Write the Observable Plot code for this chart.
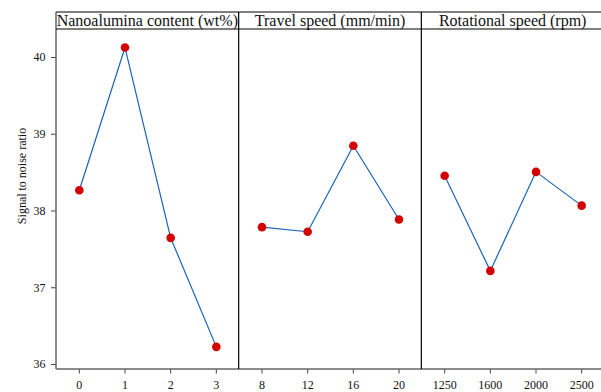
<!DOCTYPE html>
<html>
<head>
<meta charset="utf-8">
<script src="https://cdn.jsdelivr.net/npm/d3@7"></script>
<script src="https://cdn.jsdelivr.net/npm/@observablehq/plot@0.6"></script>
<style>
body { margin: 0; background: #fff; }
#chart svg, #chart svg text, #chart svg g { font-family: "Liberation Serif", "DejaVu Serif", serif !important; }
</style>
</head>
<body>
<div id="chart"></div>
<script>
const groups = ["Nanoalumina content (wt%)", "Travel speed (mm/min)", "Rotational speed (rpm)"];
const nanoLevels = ["0", "1", "2", "3"];
const travelLevels = ["8", "12", "16", "20"];
const rotLevels = ["1250", "1600", "2000", "2500"];
const nanoSN = [38.27, 40.13, 37.65, 36.23];
const travelSN = [37.79, 37.73, 38.85, 37.89];
const rotSN = [38.46, 37.22, 38.51, 38.07];
const yTicks = [36, 37, 38, 39, 40];
const yLabel = "Signal to noise ratio";

const levels = [nanoLevels, travelLevels, rotLevels];
const values = [nanoSN, travelSN, rotSN];
const labels = levels.flat();
const data = [];
levels.forEach((lv, g) => lv.forEach((l, j) => data.push({group: groups[g], i: g * 4 + j, level: l, sn: values[g][j]})));
const n = labels.length;
const serif = "Liberation Serif, DejaVu Serif, serif";

// custom mark: header boxes, panel dividers, frame, y label
function decorations(index, scales, channels, dim) {
  const {x, y} = scales;
  const top = dim.marginTop, bottom = dim.height - dim.marginBottom;
  const headTop = top - 17;
  const g = d3.create("svg:g").attr("font-family", serif);
  const left = x(-0.5), right = x(n - 0.5);
  g.append("line").attr("x1", left).attr("x2", left).attr("y1", headTop).attr("y2", bottom).attr("stroke", "#666").attr("stroke-width", 1.5);
  g.append("line").attr("x1", left).attr("x2", right).attr("y1", bottom).attr("y2", bottom).attr("stroke", "#666").attr("stroke-width", 1.5);
  g.append("line").attr("x1", left).attr("x2", right).attr("y1", headTop).attr("y2", headTop).attr("stroke", "#000").attr("stroke-width", 1.2);
  g.append("line").attr("x1", left).attr("x2", right).attr("y1", top).attr("y2", top).attr("stroke", "#000").attr("stroke-width", 1.2);
  for (let k = 1; k < groups.length; ++k) {
    const xd = x(k * 4 - 0.5);
    g.append("line").attr("x1", xd).attr("x2", xd).attr("y1", headTop).attr("y2", bottom).attr("stroke", "#000").attr("stroke-width", 1.2);
  }
  groups.forEach((name, k) => {
    g.append("text").attr("x", x(k * 4 + 1.5)).attr("y", headTop + 8.5).attr("dy", "0.36em")
      .attr("text-anchor", "middle").attr("font-size", 16).attr("fill", "#111").text(name);
  });
  g.append("text").attr("transform", `translate(22,${y(38.45)}) rotate(-90)`)
    .attr("text-anchor", "middle").attr("dy", "0.35em").attr("font-size", 12).attr("fill", "#111").text(yLabel);
  return g.node();
}

const chart = Plot.plot({
  width: 601,
  height: 392,
  marginLeft: 56,
  marginRight: -3,
  marginTop: 29,
  marginBottom: 23,
  style: {fontFamily: serif, fontSize: "12px", color: "#111", background: "#fff"},
  x: {domain: [-0.5, n - 0.5], axis: null},
  y: {domain: [35.935, 40.365], axis: null},
  marks: [
    Plot.axisX({ticks: d3.range(n), tickFormat: i => labels[i], tickSize: 4.5, tickPadding: 6, fontSize: 12, fontFamily: serif, stroke: "#444", label: null}),
    Plot.axisY({ticks: yTicks, tickFormat: d3.format("d"), tickSize: 5, tickPadding: 6, fontSize: 12, fontFamily: serif, stroke: "#444", label: null}),
    Plot.line(data, {x: "i", y: "sn", z: "group", stroke: "#1b64b6", strokeWidth: 1.2}),
    Plot.dot(data, {x: "i", y: "sn", r: 4.3, fill: "#d20000", stroke: "none"}),
    decorations
  ]
});
document.getElementById("chart").append(chart);
</script>
</body>
</html>
